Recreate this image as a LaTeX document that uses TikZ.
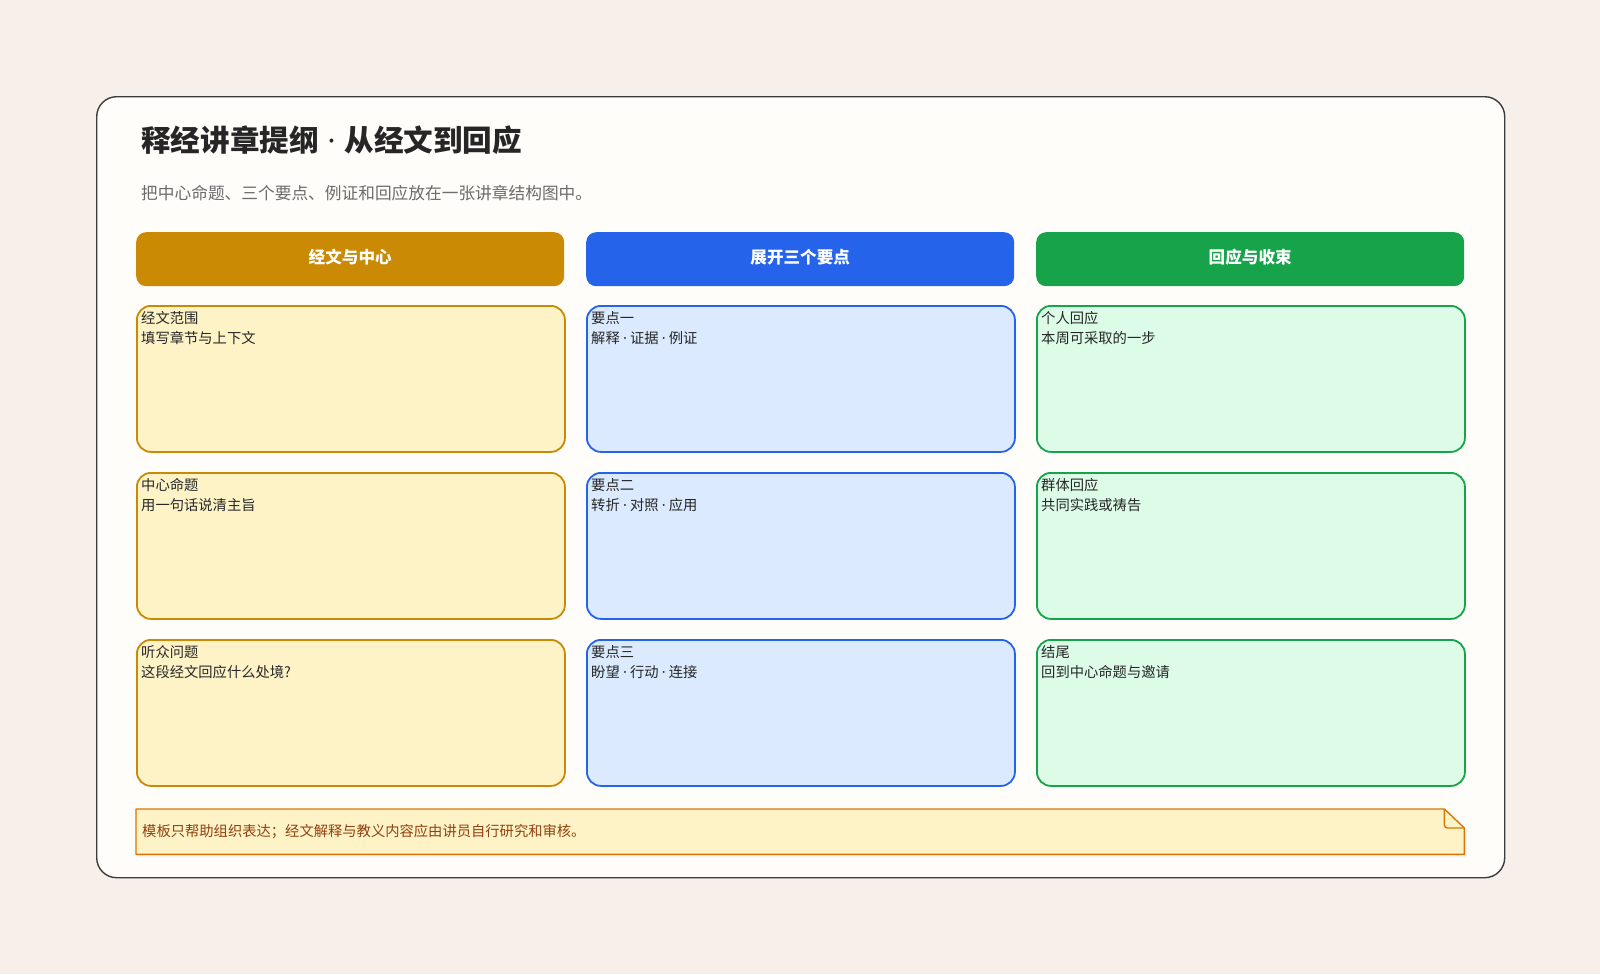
\documentclass[tikz,border=0pt]{standalone}
\usepackage{fontspec}
\setmainfont{Noto Sans CJK SC}
\newfontfamily\dotfont{Noto Sans}
\usetikzlibrary{positioning}

\definecolor{pagebg}{HTML}{F6EFEA}
\definecolor{framebg}{HTML}{FFFDF9}
\definecolor{ink}{HTML}{262626}
\definecolor{subgray}{HTML}{6B6B6B}
\definecolor{gold}{HTML}{CA8A04}
\definecolor{goldfill}{HTML}{FEF3C7}
\definecolor{blue}{HTML}{2563EB}
\definecolor{bluefill}{HTML}{DBEAFE}
\definecolor{green}{HTML}{16A34A}
\definecolor{greenfill}{HTML}{DCFCE7}
\definecolor{noteline}{HTML}{D97706}
\definecolor{notetext}{HTML}{92400E}

\newcommand\md{{\dotfont ·}}

\tikzset{
  header/.style={rounded corners=10pt, minimum width=428pt, minimum height=54pt,
    anchor=north west, inner sep=0pt, text=white,
    font=\bfseries\fontsize{16.6}{19}\selectfont},
  card/.style={rounded corners=14pt, line width=1.8pt, minimum width=428pt,
    minimum height=146pt, anchor=north west, inner sep=0pt},
  cardtext/.style={anchor=north west, align=left, inner sep=0pt, text=ink,
    font=\fontsize{14.3}{20.4}\selectfont}
}

\begin{document}
\begin{tikzpicture}[x=1pt,y=-1pt]

  % Page and frame
  \fill[pagebg] (0,0) rectangle (1600,974);
  \useasboundingbox (0,0) rectangle (1600,974);
  \node[draw=ink!90, fill=framebg, line width=1.4pt, rounded corners=20pt,
        minimum width=1408pt, minimum height=781pt, anchor=north west] (frame) at (96,96) {};

  % Title
  \node[anchor=west, inner sep=0pt, text=ink, font=\bfseries\fontsize{29.6}{35}\selectfont]
    (title) at (141,140) {释经讲章提纲\hspace{0.3em}\md\hspace{0.3em}从经文到回应};
  \node[anchor=west, inner sep=0pt, text=subgray, font=\fontsize{16.7}{19}\selectfont]
    (subtitle) at (141,193) {把中心命题、三个要点、例证和回应放在一张讲章结构图中。};

  % Column headers
  \foreach \c/\x/\hc/\t in {1/136/gold/经文与中心, 2/586/blue/展开三个要点, 3/1036/green/回应与收束}
    \node[header, fill=\hc] (head\c) at (\x,232) {\raisebox{5pt}{\t}};

  % Cards
  \foreach \c/\x/\hc/\fc in {1/136/gold/goldfill, 2/586/blue/bluefill, 3/1036/green/greenfill}
    \foreach \r/\y in {1/305, 2/472, 3/639}
      \node[card, draw=\hc, fill=\fc] (card\c\r) at (\x,\y) {};

  % Card texts
  \foreach \c/\r/\head/\body in {
      1/1/经文范围/填写章节与上下文,
      1/2/中心命题/用一句话说清主旨,
      1/3/听众问题/这段经文回应什么处境?,
      2/1/要点一/解释 \md{} 证据 \md{} 例证,
      2/2/要点二/转折 \md{} 对照 \md{} 应用,
      2/3/要点三/盼望 \md{} 行动 \md{} 连接,
      3/1/个人回应/本周可采取的一步,
      3/2/群体回应/共同实践或祷告,
      3/3/结尾/回到中心命题与邀请}
    \node[cardtext] (text\c\r) at ([shift={(5pt,-6pt)}]card\c\r.north west) {\head\\\body};

  % Note with folded corner
  \node[minimum width=1328pt, minimum height=45pt, anchor=north west, inner sep=0pt] (note) at (136,809) {};
  \fill[black!5] ([shift={(2pt,-3pt)}]note.north west) -- ([shift={(-18pt,-3pt)}]note.north east)
    -- ([shift={(2pt,-22pt)}]note.north east) -- ([shift={(2pt,-3pt)}]note.south east)
    -- ([shift={(2pt,-3pt)}]note.south west) -- cycle;
  \filldraw[fill=goldfill, draw=noteline, line width=1.4pt, line join=round]
    (note.north west) -- ([xshift=-20pt]note.north east) -- ([yshift=-19pt]note.north east)
    -- (note.south east) -- (note.south west) -- cycle;
  \draw[noteline, line width=1.4pt, rounded corners=3pt]
    ([xshift=-20pt]note.north east) |- ([yshift=-19pt]note.north east);
  \node[anchor=west, inner sep=0pt, text=notetext, font=\fontsize{14.3}{17}\selectfont]
    (notetext) at ([xshift=6pt]note.west) {模板只帮助组织表达；经文解释与教义内容应由讲员自行研究和审核。};

\end{tikzpicture}
\end{document}
